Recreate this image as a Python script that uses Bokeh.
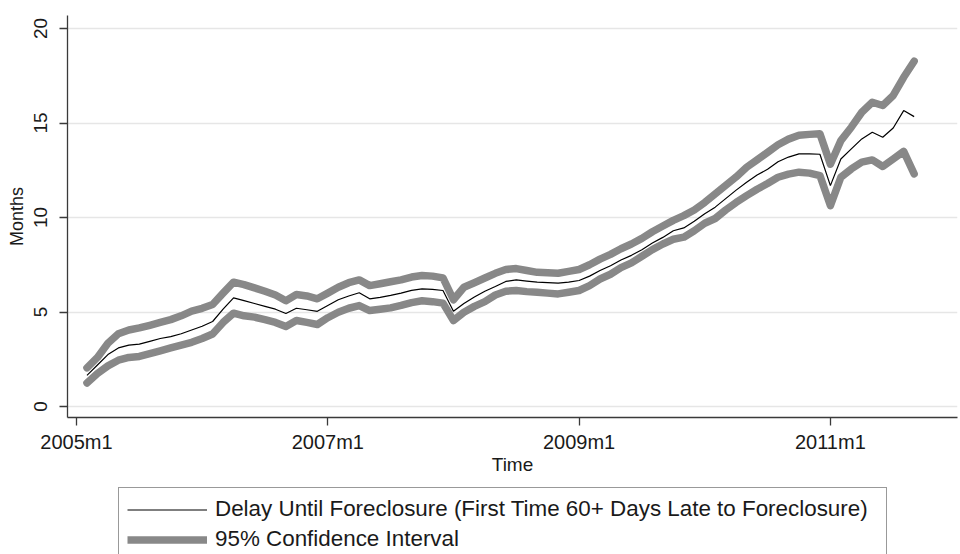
import numpy as np
from bokeh.plotting import figure
from bokeh.layouts import column
from bokeh.models import Range1d, FixedTicker, Legend, LegendItem
from bokeh.embed import file_html
from bokeh.resources import INLINE

# Delay until foreclosure (months), monthly from 2005m2
delay = [1.65, 2.2, 2.75, 3.1, 3.25, 3.3, 3.45, 3.6, 3.7, 3.85,
         4.05, 4.25, 4.5, 5.15, 5.75, 5.6, 5.45, 5.3, 5.15, 4.92,
         5.2, 5.12, 5.04, 5.35, 5.65, 5.85, 6.02, 5.7, 5.78, 5.88,
         6.0, 6.15, 6.23, 6.2, 6.14, 5.04, 5.45, 5.8, 6.1, 6.35,
         6.62, 6.7, 6.64, 6.58, 6.56, 6.53, 6.58, 6.67, 6.9, 7.2,
         7.45, 7.75, 8.0, 8.3, 8.65, 8.95, 9.3, 9.45, 9.8, 10.2,
         10.55, 11.0, 11.45, 11.87, 12.25, 12.55, 12.95, 13.2, 13.37, 13.37,
         13.35, 11.69, 13.1, 13.63, 14.16, 14.51, 14.25, 14.74, 15.66, 15.34]

ci_upper = [2.05, 2.6, 3.35, 3.85, 4.05, 4.16, 4.3, 4.45, 4.6, 4.8,
            5.05, 5.2, 5.4, 6.0, 6.58, 6.45, 6.28, 6.1, 5.9, 5.6,
            5.93, 5.85, 5.7, 6.0, 6.31, 6.55, 6.7, 6.4, 6.5, 6.6,
            6.7, 6.85, 6.93, 6.9, 6.81, 5.65, 6.31, 6.55, 6.8, 7.05,
            7.25, 7.3, 7.2, 7.1, 7.08, 7.05, 7.15, 7.25, 7.5, 7.8,
            8.05, 8.35, 8.6, 8.9, 9.25, 9.55, 9.85, 10.1, 10.4, 10.8,
            11.25, 11.7, 12.15, 12.66, 13.05, 13.45, 13.85, 14.15, 14.35, 14.4,
            14.43, 12.82, 14.07, 14.78, 15.57, 16.1, 15.93, 16.46, 17.42, 18.27]

ci_lower = [1.25, 1.75, 2.15, 2.45, 2.6, 2.65, 2.8, 2.95, 3.1, 3.25,
            3.4, 3.6, 3.84, 4.45, 4.94, 4.8, 4.73, 4.6, 4.45, 4.23,
            4.55, 4.45, 4.34, 4.7, 4.99, 5.2, 5.34, 5.08, 5.15, 5.22,
            5.35, 5.5, 5.6, 5.55, 5.47, 4.55, 4.99, 5.3, 5.55, 5.9,
            6.1, 6.14, 6.08, 6.05, 6.0, 5.96, 6.05, 6.14, 6.4, 6.75,
            7.0, 7.35, 7.6, 7.95, 8.3, 8.6, 8.85, 8.96, 9.3, 9.7,
            9.95, 10.4, 10.8, 11.16, 11.5, 11.8, 12.13, 12.3, 12.4, 12.35,
            12.22, 10.63, 12.13, 12.57, 12.93, 13.05, 12.7, 13.1, 13.5, 12.31]

# months counted from 2005m1 (= 0); the series begins at 2005m2
first_month = 1
months = list(range(first_month, first_month + len(delay)))

x_tick_values = [0, 24, 48, 72]
x_tick_labels = ["2005m1", "2007m1", "2009m1", "2011m1"]
y_tick_values = [0, 5, 10, 15, 20]

label_main = "Delay Until Foreclosure (First Time 60+ Days Late to Foreclosure)"
label_ci = "95% Confidence Interval"

FONT = "Liberation Sans"
CI_COLOR = "#888888"
CI_WIDTH = 7.5

# ---------------- main chart ----------------
p = figure(width=960, height=480, output_backend="svg", toolbar_location=None,
           x_range=Range1d(-0.86, 84.14), y_range=Range1d(-0.58, 20.69),
           min_border_left=67, min_border_right=3, min_border_top=15,
           min_border_bottom=63)
p.outline_line_color = None
p.background_fill_color = "white"
p.border_fill_color = "white"

p.line(months, ci_upper, line_color=CI_COLOR, line_width=CI_WIDTH,
       line_cap="round", line_join="round")
p.line(months, ci_lower, line_color=CI_COLOR, line_width=CI_WIDTH,
       line_cap="round", line_join="round")
p.line(months, delay, line_color="black", line_width=1.2)

p.xgrid.visible = False
p.ygrid.grid_line_color = "#e6e6e6"
p.ygrid.grid_line_width = 1.5

for ax in (p.xaxis[0], p.yaxis[0]):
    ax.axis_line_color = "#3a3a3a"
    ax.axis_line_width = 1.3
    ax.major_tick_line_color = "#3a3a3a"
    ax.major_tick_line_width = 1.3
    ax.major_tick_in = 0
    ax.major_tick_out = 8
    ax.minor_tick_line_color = None
    ax.major_label_text_font = FONT
    ax.major_label_text_color = "#1a1a1a"
    ax.axis_label_text_font = FONT
    ax.axis_label_text_font_style = "normal"
    ax.axis_label_text_color = "#1a1a1a"

p.xaxis.ticker = FixedTicker(ticks=x_tick_values)
p.xaxis.major_label_overrides = dict(zip(x_tick_values, x_tick_labels))
p.xaxis.major_label_text_font_size = "20px"
p.xaxis.major_label_standoff = 5
p.xaxis.axis_label = "Time"
p.xaxis.axis_label_text_font_size = "19px"
p.xaxis.axis_label_standoff = -2

p.yaxis.ticker = FixedTicker(ticks=y_tick_values)
p.yaxis.major_label_orientation = "vertical"
p.yaxis.major_label_text_font_size = "19px"
p.yaxis.major_label_standoff = 12
p.yaxis.axis_label = "Months"
p.yaxis.axis_label_text_font_size = "18px"
p.yaxis.axis_label_standoff = 5

# ---------------- legend strip ----------------
lg = figure(width=960, height=74, output_backend="svg", toolbar_location=None,
            x_axis_type=None, y_axis_type=None,
            x_range=Range1d(0, 1), y_range=Range1d(0, 1),
            min_border_left=67, min_border_right=3, min_border_top=0,
            min_border_bottom=0)
lg.outline_line_color = None
lg.grid.visible = False
lg.background_fill_color = "white"
lg.border_fill_color = "white"
# key-only renderers: their single point lies outside this strip's ranges
k_main = lg.line([5], [5], line_color="black", line_width=1.2)
k_ci = lg.line([5], [5], line_color=CI_COLOR, line_width=CI_WIDTH)

legend = Legend(items=[LegendItem(label=label_main, renderers=[k_main]),
                       LegendItem(label=label_ci, renderers=[k_ci])],
                location=(51, -7), orientation="vertical",
                border_line_color="#333333", border_line_width=1,
                background_fill_color="white", background_fill_alpha=1,
                label_text_font=FONT, label_text_font_size="22.4px",
                label_text_color="#1a1a1a", label_width=663,
                glyph_width=80, glyph_height=25, label_height=25,
                label_standoff=8, padding=8, spacing=4, margin=0)
legend.padding = 8
lg.add_layout(legend)

layout = column(p, lg, spacing=0)
open("out.html", "w").write(file_html(layout, INLINE))
